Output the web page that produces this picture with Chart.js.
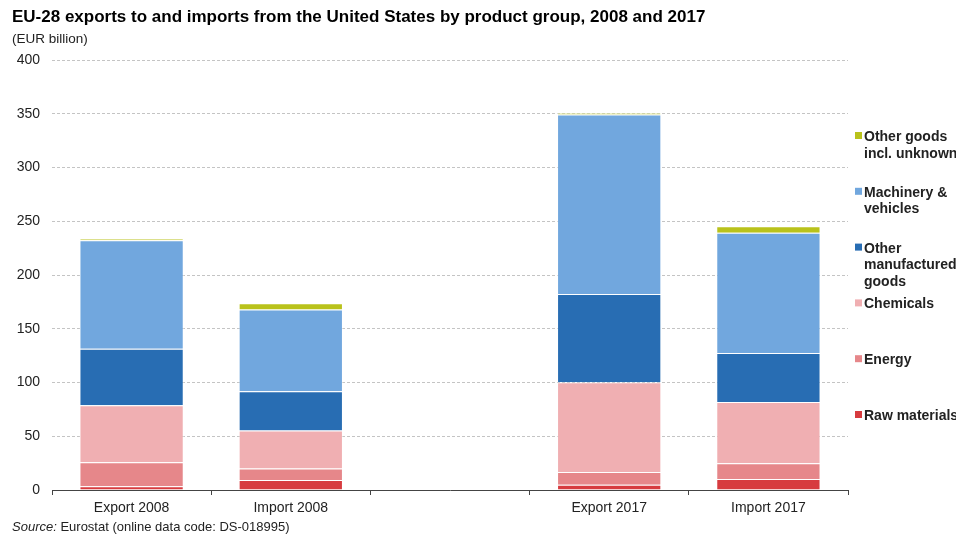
<!DOCTYPE html>
<html>
<head>
<meta charset="utf-8">
<script src="https://cdn.jsdelivr.net/npm/chart.js@4/dist/chart.umd.min.js"></script>
<style>
  html, body { margin: 0; padding: 0; background: #fff; }
  #wrap { width: 956px; height: 536px; position: relative; }
</style>
</head>
<body>
<div id="wrap"><canvas id="graph"></canvas></div>
<script>
// Categories (the empty one is the gap between the two years)
const categories = ['Export 2008', 'Import 2008', '', 'Export 2017', 'Import 2017'];

// Series values, EUR billion
const rawMaterials = [3.4, 9.4, null, 5.0, 10.3];
const energy = [22.4, 10.5, null, 11.8, 14.5];
const chemicals = [53.0, 35.4, null, 83.4, 57.1];
const otherManufactured = [52.5, 36.5, null, 82.2, 45.6];
const machinery = [101.0, 76.0, null, 166.8, 111.7];
const otherGoods = [1.6, 5.9, null, 1.8, 6.1];

const seriesLabels = [
  ['Raw materials'],
  ['Energy'],
  ['Chemicals'],
  ['Other', 'manufactured', 'goods'],
  ['Machinery &', 'vehicles'],
  ['Other goods', 'incl. unknown']
];
const seriesColors = ['#d73b3f', '#e6878a', '#f0afb2', '#286db3', '#71a7de', '#b9c21b'];
const seriesData = [rawMaterials, energy, chemicals, otherManufactured, machinery, otherGoods];

const yTicks = [0, 50, 100, 150, 200, 250, 300, 350, 400];

const FONT = "'Liberation Sans', Arial, sans-serif";

// Titles, source and the right-hand legend
const textPlugin = {
  id: 'texts',
  afterDraw(chart) {
    const ctx = chart.ctx;
    ctx.save();
    ctx.fillStyle = '#000';
    ctx.textBaseline = 'alphabetic';
    ctx.textAlign = 'left';
    ctx.font = 'bold 17px ' + FONT;
    ctx.fillText('EU-28 exports to and imports from the United States by product group, 2008 and 2017', 12, 22);
    ctx.font = '13.5px ' + FONT;
    ctx.fillStyle = '#222';
    ctx.fillText('(EUR billion)', 12, 43);

    ctx.font = 'italic 13px ' + FONT;
    ctx.fillText('Source:', 12, 531);
    const w = ctx.measureText('Source: ').width;
    ctx.font = '13px ' + FONT;
    ctx.fillText('Eurostat (online data code: DS-018995)', 12 + w, 531);

    // legend, last series on top
    ctx.font = 'bold 14px ' + FONT;
    const n = chart.data.datasets.length;
    for (let i = 0; i < n; i++) {
      const ds = chart.data.datasets[n - 1 - i];
      const y = 132 + i * 55.8;
      ctx.fillStyle = ds.backgroundColor;
      ctx.fillRect(855, y, 7, 7);
      ctx.fillStyle = '#222';
      ds.legendLines.forEach((line, j) => {
        ctx.fillText(line, 864, y + 9 + j * 16.5);
      });
    }
    ctx.restore();
  }
};

const ctx = document.getElementById('graph').getContext('2d');
const chart = new Chart(ctx, {
  type: 'bar',
  data: {
    labels: categories,
    datasets: seriesData.map((values, i) => ({
      label: seriesLabels[i].join(' '),
      legendLines: seriesLabels[i],
      data: values,
      backgroundColor: seriesColors[i],
      borderColor: 'rgba(255,255,255,0.45)',
      borderWidth: 1,
      categoryPercentage: 1,
      barPercentage: 0.655
    }))
  },
  options: {
    responsive: true,
    maintainAspectRatio: false,
    animation: false,
    layout: {
      padding: { left: 12, right: 108, top: 60, bottom: 16 }
    },
    scales: {
      x: {
        stacked: true,
        grid: {
          offset: true,
          drawOnChartArea: false,
          drawTicks: true,
          tickLength: 5,
          color: '#444'
        },
        border: { display: true, color: '#444', width: 1 },
        ticks: {
          color: '#222',
          font: { family: FONT, size: 14 },
          padding: 5
        },
        afterFit(scale) { scale.height = 30; }
      },
      y: {
        stacked: true,
        min: 0,
        max: 400,
        afterBuildTicks(scale) { scale.ticks = yTicks.map(v => ({ value: v })); },
        grid: {
          color: '#c4c4c4',
          drawTicks: false,
          lineWidth: 1
        },
        border: { display: false, dash: [3, 2] },
        ticks: {
          color: '#222',
          font: { family: FONT, size: 14 },
          padding: 12
        },
        afterFit(scale) { scale.width = 40; }
      }
    },
    plugins: {
      legend: { display: false },
      title: { display: false },
      tooltip: { enabled: false }
    }
  },
  plugins: [textPlugin]
});
</script>
</body>
</html>
